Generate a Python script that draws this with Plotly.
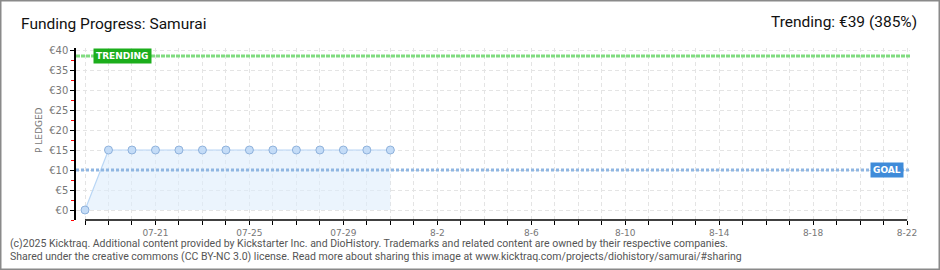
import plotly.graph_objects as go

# ---- data ----
dates = ["2025-07-18", "2025-07-19", "2025-07-20", "2025-07-21", "2025-07-22",
         "2025-07-23", "2025-07-24", "2025-07-25", "2025-07-26", "2025-07-27",
         "2025-07-28", "2025-07-29", "2025-07-30", "2025-07-31"]
pledged = [0, 15, 15, 15, 15, 15, 15, 15, 15, 15, 15, 15, 15, 15]
goal = 10
trending = 38.5
x_tickvals = ["2025-07-21", "2025-07-25", "2025-07-29", "2025-08-02", "2025-08-06",
              "2025-08-10", "2025-08-14", "2025-08-18", "2025-08-22"]
x_ticktext = ["07-21", "07-25", "07-29", "8-2", "8-6", "8-10", "8-14", "8-18", "8-22"]
y_tickvals = [0, 5, 10, 15, 20, 25, 30, 35, 40]
y_ticktext = ["€0", "€5", "€10", "€15", "€20", "€25", "€30", "€35", "€40"]
x_range = ["2025-07-17 14:48", "2025-08-22 03:00"]
y_range = [-2.5, 40.5]

title_text = "Funding Progress: Samurai"
trend_text = "Trending: €39 (385%)"
footer1 = ("(c)2025 Kicktraq. Additional content provided by Kickstarter Inc. and DioHistory. "
           "Trademarks and related content are owned by their respective companies.")
footer2 = ("Shared under the creative commons (CC BY-NC 3.0) license. Read more about sharing "
           "this image at www.kicktraq.com/projects/diohistory/samurai/#sharing")

W, H = 940, 270
L, R, T, B = 76, 30, 48, 50
pw, ph = W - L - R, H - T - B

def px(xp):
    return (xp - L) / pw

def py(yp):
    return (H - B - yp) / ph

fig = go.Figure()

fig.add_trace(go.Scatter(
    x=dates, y=pledged, mode="lines+markers", fill="tozeroy",
    fillcolor="rgba(222,236,251,0.6)",
    line=dict(color="#b9d6f5", width=1.2),
    marker=dict(size=8, color="#c4dcf7", line=dict(color="#8fb2dc", width=1)),
    hoverinfo="skip", showlegend=False,
))

# goal and trending lines
fig.add_hline(y=goal, line=dict(color="#8fb6e2", width=3, dash="3px,2px"))
fig.add_hline(y=trending, line=dict(color="#80dc80", width=3, dash="4px,1px"))

# x axis line starting at first date
fig.add_shape(type="line", xref="x", yref="paper", x0=dates[0], x1=x_tickvals[-1],
              y0=0, y1=0, line=dict(color="black", width=1.5))

# labels
fig.add_annotation(xref="paper", yref="y", x=px(93), y=trending, xanchor="left",
                   yanchor="middle", text="<b>TRENDING</b>", showarrow=False,
                   bgcolor="#1cae1c", font=dict(color="white", size=9, family="DejaVu Sans"),
                   borderpad=2)
fig.add_annotation(xref="paper", yref="y", x=px(904), y=goal, xanchor="right",
                   yanchor="middle", text="<b>GOAL</b>", showarrow=False,
                   bgcolor="#3f8bd9", font=dict(color="white", size=9, family="DejaVu Sans"),
                   borderpad=2)

# title texts
fig.add_annotation(xref="paper", yref="paper", x=px(19), y=py(24), xanchor="left",
                   yanchor="middle", text=title_text, showarrow=False,
                   font=dict(size=15.5, color="#111", family="Roboto"))
fig.add_annotation(xref="paper", yref="paper", x=px(919), y=py(22), xanchor="right",
                   yanchor="middle", text=trend_text, showarrow=False,
                   font=dict(size=15.5, color="#111", family="Roboto"))
fig.add_annotation(xref="paper", yref="paper", x=px(39), y=py(130), xanchor="center",
                   yanchor="middle", text="P LEDGED", textangle=-90, showarrow=False,
                   font=dict(size=9, color="#777", family="DejaVu Sans"))
fig.add_annotation(xref="paper", yref="paper", x=px(8), y=py(243), xanchor="left",
                   yanchor="middle", text=footer1, showarrow=False,
                   font=dict(size=10.5, color="#555", family="Roboto"))
fig.add_annotation(xref="paper", yref="paper", x=px(8), y=py(256), xanchor="left",
                   yanchor="middle", text=footer2, showarrow=False,
                   font=dict(size=10.5, color="#555", family="Roboto"))

# outer frame
fig.add_shape(type="rect", xref="paper", yref="paper", x0=px(0.75), x1=px(939.25),
              y0=py(269.25), y1=py(0.75), line=dict(color="#8a8a8a", width=1.5))

fig.update_layout(
    width=W, height=H, margin=dict(l=L, r=R, t=T, b=B),
    paper_bgcolor="white", plot_bgcolor="white",
    xaxis=dict(
        type="date", range=x_range, tickvals=x_tickvals, ticktext=x_ticktext,
        ticks="outside", ticklen=4, tickcolor="black", tickwidth=1,
        showline=False, zeroline=False,
        showgrid=True, gridcolor="#e4e4e4", griddash="4px,3px", gridwidth=1,
        tickfont=dict(size=9, color="#777", family="DejaVu Sans"),
        minor=dict(dtick=86400000, tick0=dates[0], ticks="outside", ticklen=4,
                   tickcolor="black", showgrid=True, gridcolor="#e4e4e4",
                   griddash="4px,3px"),
        fixedrange=True,
    ),
    yaxis=dict(
        range=y_range, tickvals=y_tickvals, ticktext=y_ticktext,
        ticks="outside", ticklen=4, tickcolor="black", tickwidth=1.2,
        showline=True, linecolor="black", linewidth=1.5, zeroline=False,
        showgrid=True, gridcolor="#e4e4e4", griddash="4px,3px",
        tickfont=dict(size=10, color="#777", family="DejaVu Sans"),
        minor=dict(dtick=2.5, tick0=0, ticks="outside", ticklen=3, tickcolor="red",
                   showgrid=False),
        fixedrange=True,
    ),
    showlegend=False,
)

fig.write_html("out.html")
